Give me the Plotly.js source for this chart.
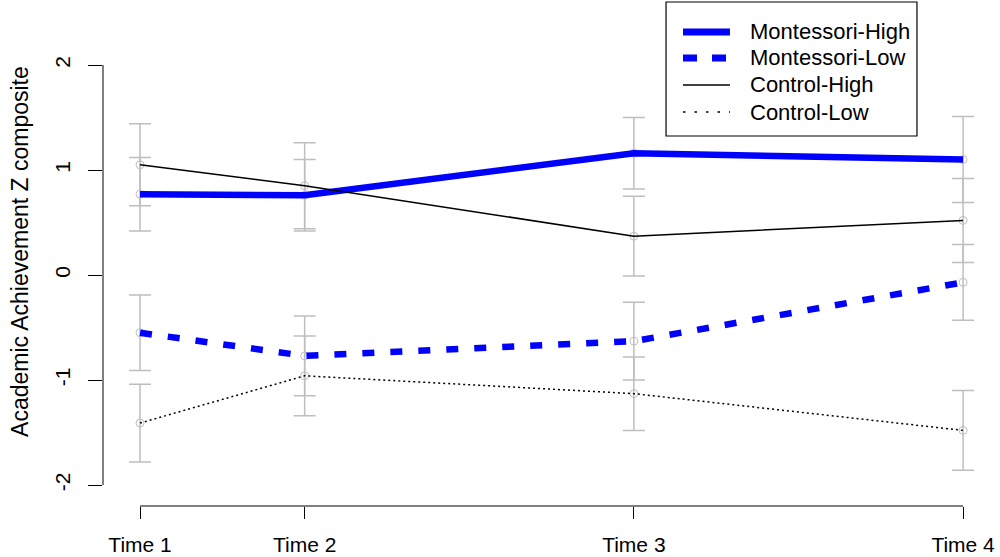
<!DOCTYPE html>
<html>
<head>
<meta charset="utf-8">
<script src="https://cdn.plot.ly/plotly-3.0.1.min.js"></script>
<style>html,body{margin:0;padding:0;background:#fff;}#chart{width:1000px;height:557px;}</style>
</head>
<body>
<div id="chart"></div>
<script>
// Time positions (study timing) and tick labels
var timeX = [0, 1, 3, 5];
var timeLabels = ['Time 1', 'Time 2', 'Time 3', 'Time 4'];
var yTicks = [-2, -1, 0, 1, 2];

// Series means
var montHigh = [0.77, 0.76, 1.16, 1.10];
var montLow  = [-0.55, -0.77, -0.63, -0.07];
var ctrlHigh = [1.05, 0.85, 0.37, 0.52];
var ctrlLow  = [-1.41, -0.96, -1.13, -1.48];

// Error bar half-lengths
var montHighErr = [0.35, 0.34, 0.34, 0.41];
var montLowErr  = [0.36, 0.38, 0.37, 0.36];
var ctrlHighErr = [0.39, 0.41, 0.38, 0.40];
var ctrlLowErr  = [0.37, 0.38, 0.35, 0.38];

var seriesNames = ['Montessori-High', 'Montessori-Low', 'Control-High', 'Control-Low'];

var FONT = 'Liberation Sans, Arial, sans-serif';
var GREY = '#BEBEBE';

var styles = [
  {color: '#0000FF', width: 6.5, legendWidth: 7, dash: 'solid', legendDash: 'solid'},
  {color: '#0000FF', width: 6.5, legendWidth: 7, dash: '12px,16px', legendDash: '14px,15px'},
  {color: '#000000', width: 1.5, legendWidth: 1.5, dash: 'solid', legendDash: 'solid'},
  {color: '#000000', width: 1.5, legendWidth: 1.5, dash: '2px,3px', legendDash: '2.5px,9px'}
];
var means = [montHigh, montLow, ctrlHigh, ctrlLow];
var errs = [montHighErr, montLowErr, ctrlHighErr, ctrlLowErr];

var traces = [];
means.forEach(function (y, i) {
  traces.push({
    x: timeX, y: y, type: 'scatter', mode: 'markers', showlegend: false, hoverinfo: 'skip',
    marker: {symbol: 'circle-open', size: 8, color: GREY, line: {width: 1, color: GREY}},
    error_y: {type: 'data', array: errs[i], visible: true, color: GREY, thickness: 1.5, width: 11}
  });
});
means.forEach(function (y, i) {
  traces.push({
    x: timeX, y: y, type: 'scatter', mode: 'lines', name: seriesNames[i], showlegend: false,
    line: {color: styles[i].color, width: styles[i].width, dash: styles[i].dash}
  });
});

// Legend geometry (paper coordinates)
var legBox = {x0: 0.6305, x1: 0.9115, y0: 0.8009, y1: 1.0909};
var legRows = [1.026, 0.9697, 0.9113, 0.8528];
var legSample = [0.6495, 0.7021];
var legText = 0.7223;

var shapes = [
  {type: 'line', xref: 'paper', yref: 'y', x0: 0, x1: 0,
   y0: Math.min.apply(null, yTicks), y1: Math.max.apply(null, yTicks),
   line: {color: '#000', width: 1}},
  {type: 'line', xref: 'x', yref: 'paper', y0: 0, y1: 0,
   x0: Math.min.apply(null, timeX), x1: Math.max.apply(null, timeX),
   line: {color: '#000', width: 1}},
  {type: 'rect', xref: 'paper', yref: 'paper', x0: legBox.x0, x1: legBox.x1, y0: legBox.y0, y1: legBox.y1,
   fillcolor: '#ffffff', line: {color: '#000', width: 1.2}, layer: 'above'}
];
var annotations = [
  {text: 'Academic Achievement Z composite', xref: 'paper', yref: 'paper',
   x: -0.093, y: 0.552, xanchor: 'center', yanchor: 'middle', textangle: -90,
   showarrow: false, font: {family: FONT, size: 23, color: '#000'}}
];
seriesNames.forEach(function (name, i) {
  shapes.push({type: 'line', xref: 'paper', yref: 'paper', layer: 'above',
    x0: legSample[0], x1: legSample[1], y0: legRows[i], y1: legRows[i],
    line: {color: styles[i].color, width: styles[i].legendWidth, dash: styles[i].legendDash}});
  annotations.push({text: name, xref: 'paper', yref: 'paper', x: legText, y: legRows[i],
    xanchor: 'left', yanchor: 'middle', showarrow: false,
    font: {family: FONT, size: 22, color: '#000'}});
});

var layout = {
  width: 1000, height: 557,
  margin: {l: 103, r: 4, t: 44, b: 51},
  paper_bgcolor: '#ffffff', plot_bgcolor: '#ffffff',
  font: {family: FONT, size: 21, color: '#000'},
  showlegend: false,
  xaxis: {
    range: [-0.225, 5.2], showgrid: false, zeroline: false, showline: false,
    tickmode: 'array', tickvals: timeX, ticktext: timeLabels,
    ticks: 'outside', ticklen: 12, tickwidth: 1, tickcolor: '#000',
    ticklabelstandoff: 8, tickfont: {family: FONT, size: 21, color: '#000'}
  },
  yaxis: {
    range: [-2.2, 2.2], showgrid: false, zeroline: false, showline: false,
    tickmode: 'array', tickvals: yTicks, ticktext: yTicks.map(String),
    ticks: 'outside', ticklen: 14, tickwidth: 1, tickcolor: '#000',
    tickangle: -90, ticklabelstandoff: 10,
    tickfont: {family: FONT, size: 21, color: '#000'}
  },
  shapes: shapes,
  annotations: annotations
};

Plotly.newPlot('chart', traces, layout, {displayModeBar: false, staticPlot: true});
</script>
</body>
</html>
